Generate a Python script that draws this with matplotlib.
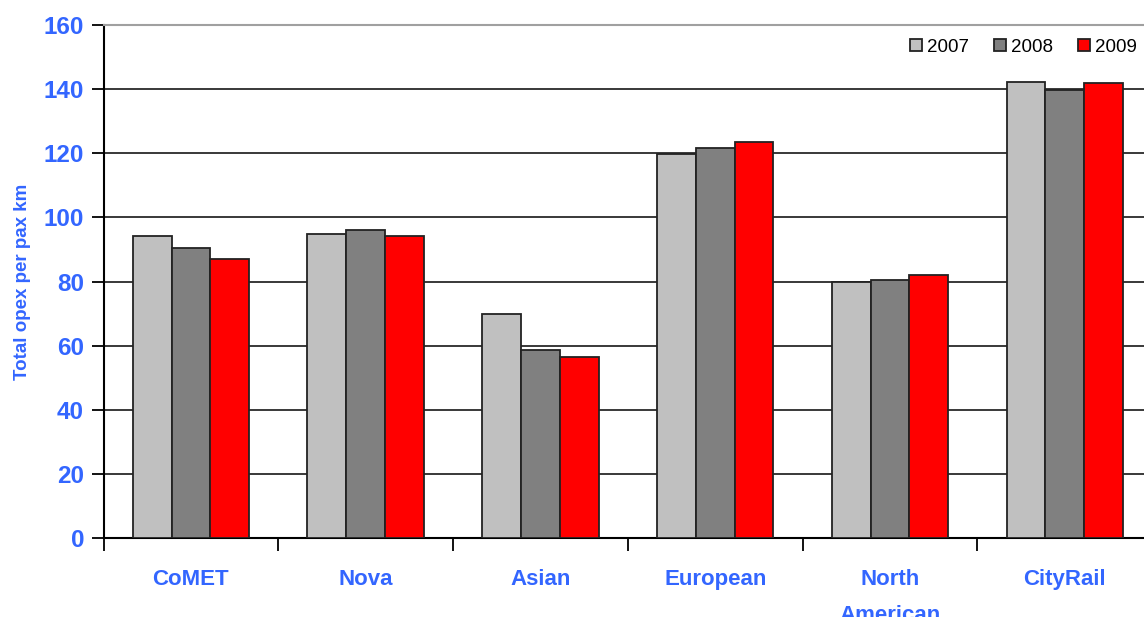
import numpy as np
import matplotlib
matplotlib.use('Agg')
import matplotlib.pyplot as plt

plt.rcParams['font.family'] = ['Liberation Sans', 'DejaVu Sans']

# data
operators = ['CoMET', 'Nova', 'Asian', 'European', 'North\nAmerican', 'CityRail']
years = ['2007', '2008', '2009']
opex_2007 = [94.2, 94.7, 69.9, 119.9, 79.9, 142.3]
opex_2008 = [90.4, 96.0, 58.6, 121.5, 80.6, 139.8]
opex_2009 = [87.0, 94.2, 56.4, 123.4, 82.2, 141.9]
yticks = [0, 20, 40, 60, 80, 100, 120, 140, 160]

blue = '#3366FF'
colors = ['#C0C0C0', '#808080', '#FF0000']

fig = plt.figure(figsize=(11.44, 6.17), dpi=100)
ax = fig.add_axes([0.0905, 0.1276, 0.9166, 0.8319])

x = np.arange(len(operators))
w = 0.222
series = [opex_2007, opex_2008, opex_2009]
for i, vals in enumerate(series):
    ax.bar(x + (i - 1) * w, vals, width=w, color=colors[i], edgecolor='#222222',
           linewidth=1.3, label=years[i], zorder=3)

ax.set_xlim(-0.5, len(operators) - 0.5)
ax.set_ylim(0, 160)

# grid lines
ax.set_yticks(yticks)
for v in yticks[1:-1]:
    ax.axhline(v, color='#2a2a2a', linewidth=1.3, zorder=1)

ax.spines['top'].set_color('#A0A0A0')
ax.spines['top'].set_linewidth(1.5)
ax.spines['right'].set_visible(False)
ax.spines['left'].set_linewidth(1.5)
ax.spines['bottom'].set_linewidth(1.5)

ax.tick_params(axis='y', length=9, width=1.3, pad=5, labelsize=17.5, labelcolor=blue)
for lbl in ax.get_yticklabels():
    lbl.set_fontweight('bold')

# category labels at centres, tick marks at boundaries
ax.set_xticks(x)
ax.set_xticklabels(operators, fontsize=16, fontweight='bold', color=blue)
for lbl in ax.get_xticklabels():
    lbl.set_linespacing(1.95)
ax.set_xticks(np.arange(len(operators) + 1) - 0.5, minor=True)
ax.tick_params(axis='x', which='major', length=0, pad=22)
ax.tick_params(axis='x', which='minor', length=9, width=1.3)

ax.set_ylabel('Total opex per pax km', fontsize=13.5, fontweight='bold', color=blue)
ax.yaxis.set_label_coords(-0.069, 0.5)

ax.legend(loc='center right', bbox_to_anchor=(1137 / 1144, 1 - 47 / 617),
          bbox_transform=fig.transFigure, ncol=3, frameon=False, fontsize=13.5,
          handlelength=0.65, handleheight=0.65, handletextpad=0.25,
          columnspacing=1.35, borderpad=0, borderaxespad=0)

fig.savefig('out.png', dpi=100)
